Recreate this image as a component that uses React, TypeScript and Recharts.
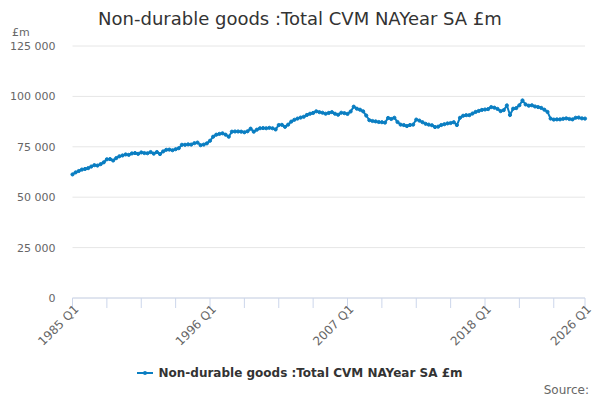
import React from "react";
import { LineChart, Line, XAxis, YAxis, CartesianGrid } from "recharts";

// quarterly categories 1985 Q1 .. 2026 Q1
const quarters: string[] = [];
for (let y = 1985; y <= 2026; y++) {
  for (let q = 1; q <= 4; q++) {
    if (y === 2026 && q > 1) break;
    quarters.push(`${y} Q${q}`);
  }
}

// £m
const values = [
  61300, 62300, 63000, 63700, 64000, 64400, 65200, 65900, 65700, 66400,
  67300, 68800, 68900, 68200, 69400, 70300, 70700, 71200, 71000, 71700,
  71900, 71500, 72200, 71900, 71800, 72400, 71600, 72400, 71400, 72700,
  73500, 73600, 73300, 73800, 74300, 76000, 76000, 76200, 76100, 76800,
  77100, 75800, 76100, 76700, 78000, 80000, 81000, 81400, 81700, 81000,
  80000, 82500, 82600, 82600, 82500, 82200, 82700, 84000, 82500, 83500,
  84200, 84300, 84200, 84400, 84200, 83600, 85800, 85900, 84900, 86000,
  87500, 88400, 89000, 89500, 89900, 90800, 91400, 91800, 92600, 92200,
  91900, 91400, 91800, 92200, 91400, 90900, 91900, 91700, 91300, 92500,
  94900, 93900, 93400, 92600, 90500, 88200, 87800, 87600, 87300, 87200,
  87000, 89300, 88800, 89400, 87300, 86000, 85800, 85300, 85800, 86000,
  88500, 88000, 87200, 86400, 86000, 85700, 84800, 85000, 85800, 86200,
  86600, 86800, 87200, 85800, 89400, 90400, 90700, 90700, 91500, 92300,
  92800, 93300, 93500, 93700, 94700, 94400, 93800, 92700, 93200, 95500,
  90800, 93900, 94200, 95600, 98000, 96000, 95400, 95600, 95000, 94700,
  94300, 93400, 92300, 89000, 88500, 88600, 88600, 88900, 89100, 88800,
  88600, 89400, 89500, 89100, 89000,
];

const yTicks = [0, 25000, 50000, 75000, 100000, 125000];
const xLabels = ["1985 Q1", "1996 Q1", "2007 Q1", "2018 Q1", "2026 Q1"];
const xTicks = quarters.filter((_, i) => i % 11 === 0 || i === quarters.length - 1);

const seriesName = "Non-durable goods :Total CVM NAYear SA £m";
const lineColor = "#0a7ec2";
const font = "'DejaVu Sans', sans-serif";

const data = quarters.map((q, i) => ({ quarter: q, value: values[i] }));

const fmt = (v: number) => String(v).replace(/\B(?=(\d{3})+(?!\d))/g, " ");

function XTick(props: any) {
  const { x, y, payload } = props;
  if (!xLabels.includes(payload.value)) return null;
  return (
    <g transform={`translate(${x + 4},${y - 1})`}>
      <text
        textAnchor="end"
        transform="rotate(-45)"
        fontSize={12}
        fill="#666666"
        fontFamily={font}
        dy="0.35em"
      >
        {payload.value}
      </text>
    </g>
  );
}

export default function App() {
  return (
    <div
      style={{
        position: "absolute",
        left: 0,
        top: 0,
        width: 600,
        height: 400,
        background: "#fff",
        fontFamily: font,
      }}
    >
      <div
        style={{
          position: "absolute",
          top: 8,
          width: 600,
          textAlign: "center",
          fontSize: 18,
          color: "#333333",
        }}
      >
        {seriesName}
      </div>
      <div
        style={{ position: "absolute", left: 12, top: 26, fontSize: 11, color: "#666666" }}
      >
        £m
      </div>

      <LineChart
        width={600}
        height={400}
        data={data}
        margin={{ top: 46, right: 15, bottom: 72, left: 0 }}
      >
        <CartesianGrid vertical={false} stroke="#e6e6e6" />
        <XAxis
          dataKey="quarter"
          scale="point"
          ticks={xTicks}
          interval={0}
          height={30}
          tick={<XTick />}
          tickSize={10}
          tickMargin={0}
          axisLine={{ stroke: "#ccd6eb" }}
          tickLine={{ stroke: "#ccd6eb" }}
        />
        <YAxis
          width={72.5}
          domain={[0, 125000]}
          ticks={yTicks}
          tickFormatter={fmt}
          axisLine={false}
          tickLine={false}
          tickSize={0}
          tickMargin={17}
          tick={{ fontSize: 11, fill: "#666666", fontFamily: font }}
        />
        <Line
          type="linear"
          dataKey="value"
          stroke={lineColor}
          strokeWidth={2}
          dot={{ r: 1.6, fill: lineColor, stroke: lineColor, strokeWidth: 1 }}
          isAnimationActive={false}
        />
      </LineChart>

      <div
        style={{
          position: "absolute",
          top: 366,
          width: 600,
          display: "flex",
          justifyContent: "center",
          alignItems: "center",
          fontSize: 12,
          fontWeight: "bold",
          color: "#333333",
        }}
      >
        <svg width={16} height={12} style={{ marginRight: 5 }}>
          <line x1={0} y1={6} x2={16} y2={6} stroke={lineColor} strokeWidth={2} />
          <circle cx={8} cy={6} r={2} fill={lineColor} />
        </svg>
        <span>{seriesName}</span>
      </div>
      <div
        style={{
          position: "absolute",
          right: 11,
          top: 383,
          fontSize: 12,
          color: "#666666",
        }}
      >
        Source:
      </div>
    </div>
  );
}
